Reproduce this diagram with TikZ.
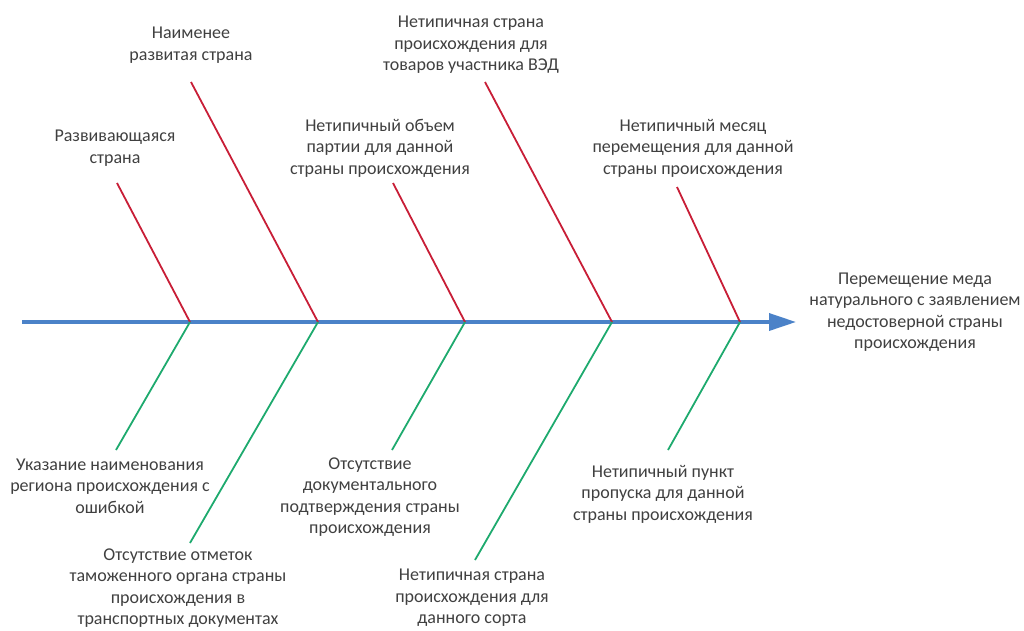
\documentclass[tikz,border=0pt]{standalone}
\usepackage{fontspec}
\setmainfont{Carlito}
\usetikzlibrary{arrows.meta}
\definecolor{bonered}{RGB}{200,30,55}
\definecolor{bonegreen}{RGB}{30,170,110}
\definecolor{spineblue}{RGB}{75,130,200}
\tikzset{
  lbl/.style={align=center, inner sep=0pt, text=black!75, font=\fontsize{18}{21.5}\selectfont},
  redbone/.style={draw=bonered, line width=1.8pt},
  greenbone/.style={draw=bonegreen, line width=1.8pt}
}
\begin{document}
\begin{tikzpicture}[x=1pt,y=-1pt]
\useasboundingbox (0,0) rectangle (1024,630);

% spine
\coordinate (s0) at (22,322);
\coordinate (s6) at (796,322);
\draw [spineblue, line width=3.5pt, -{Triangle[length=27pt,width=17pt]}] (s0) -- (s6);

\coordinate (s1) at (190,322);
\coordinate (s2) at (318,322);
\coordinate (s3) at (465,322);
\coordinate (s4) at (612,322);
\coordinate (s5) at (740,322);

% upper bones
\node [lbl] (u1) at (115,148) {Развивающаяся\\страна};
\node [lbl] (u2) at (191,45) {Наименее\\развитая страна};
\node [lbl] (u3) at (380,148) {Нетипичный объем\\партии для данной\\страны происхождения};
\node [lbl] (u4) at (471,45) {Нетипичная страна\\происхождения для\\товаров участника ВЭД};
\node [lbl] (u5) at (693,148) {Нетипичный месяц\\перемещения для данной\\страны происхождения};

\coordinate (a1) at (117,183);
\coordinate (a2) at (191,82);
\coordinate (a3) at (393,183);
\coordinate (a4) at (485,82);
\coordinate (a5) at (677,187);

\draw [redbone] (a1) -- (s1);
\draw [redbone] (a2) -- (s2);
\draw [redbone] (a3) -- (s3);
\draw [redbone] (a4) -- (s4);
\draw [redbone] (a5) -- (s5);

% lower bones
\node [lbl] (d1) at (110,486) {Указание наименования\\региона происхождения с\\ошибкой};
\node [lbl] (d2) at (178,588) {Отсутствие отметок\\таможенного органа страны\\происхождения в\\транспортных документах};
\node [lbl] (d3) at (370,497) {Отсутствие\\документального\\подтверждения страны\\происхождения};
\node [lbl] (d4) at (472,598) {Нетипичная страна\\происхождения для\\данного сорта};
\node [lbl] (d5) at (663,494) {Нетипичный пункт\\пропуска для данной\\страны происхождения};

\coordinate (b1) at (116,450);
\coordinate (b2) at (190,543);
\coordinate (b3) at (392,450);
\coordinate (b4) at (475,560);
\coordinate (b5) at (668,450);

\draw [greenbone] (s1) -- (b1);
\draw [greenbone] (s2) -- (b2);
\draw [greenbone] (s3) -- (b3);
\draw [greenbone] (s4) -- (b4);
\draw [greenbone] (s5) -- (b5);

% effect
\node [lbl] (eff) at (915,312) {Перемещение меда\\натурального с заявлением\\недостоверной страны\\происхождения};
\end{tikzpicture}
\end{document}
